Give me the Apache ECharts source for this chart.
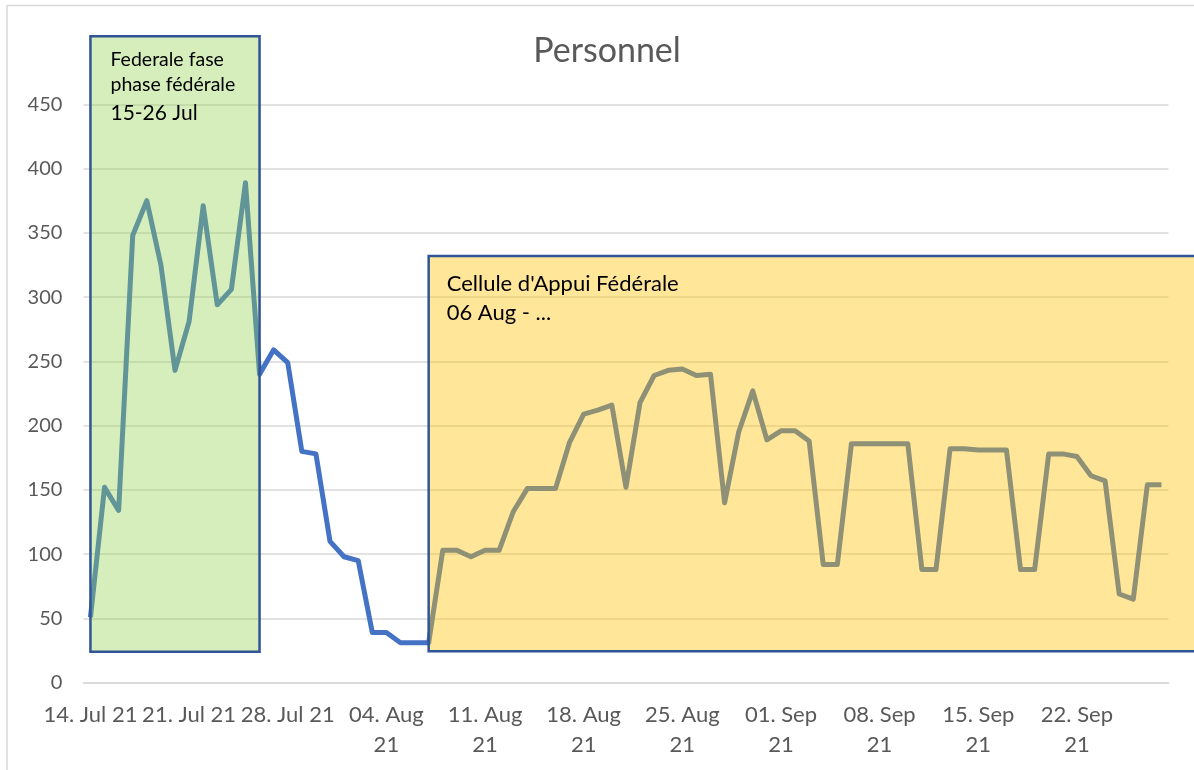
<!DOCTYPE html>
<html>
<head>
<meta charset="utf-8">
<script src="https://cdn.jsdelivr.net/npm/echarts@6/dist/echarts.min.js"></script>
<style>
html, body { margin: 0; padding: 0; background: #fff; }
#chart { width: 1194px; height: 770px; }
</style>
</head>
<body>
<div id="chart"></div>
<script>
// jours (14 Jul 21 - 28 Sep 21)
var days = [
    '14.07', '15.07', '16.07', '17.07', '18.07', '19.07', '20.07', '21.07', '22.07', '23.07', '24.07', '25.07', '26.07', '27.07', '28.07', '29.07', '30.07', '31.07',
    '01.08', '02.08', '03.08', '04.08', '05.08', '06.08', '07.08', '08.08', '09.08', '10.08', '11.08', '12.08', '13.08', '14.08', '15.08', '16.08', '17.08', '18.08',
    '19.08', '20.08', '21.08', '22.08', '23.08', '24.08', '25.08', '26.08', '27.08', '28.08', '29.08', '30.08', '31.08',
    '01.09', '02.09', '03.09', '04.09', '05.09', '06.09', '07.09', '08.09', '09.09', '10.09', '11.09', '12.09', '13.09', '14.09', '15.09', '16.09', '17.09',
    '18.09', '19.09', '20.09', '21.09', '22.09', '23.09', '24.09', '25.09', '26.09', '27.09', '28.09'
];

var tickLabels = [
    '14. Jul 21', '21. Jul 21', '28. Jul 21', '04. Aug\n21', '11. Aug\n21', '18. Aug\n21',
    '25. Aug\n21', '01. Sep\n21', '08. Sep\n21', '15. Sep\n21', '22. Sep\n21'
];

var personnel = [
    51, 152, 134, 348, 375, 325, 243, 281, 371, 294, 306, 389, 240, 259, 249, 180, 178, 110,
    98, 95, 39, 39, 31, 31, 31, 103, 103, 98, 103, 103, 133, 151, 151, 151, 187, 209,
    212, 216, 152, 218, 239, 243, 244, 239, 240, 140, 195, 227, 189,
    196, 196, 188, 92, 92, 186, 186, 186, 186, 186, 88, 88, 182, 182, 181, 181, 181,
    88, 88, 178, 178, 176, 161, 157, 69, 65, 154, 154
];

var yTicks = [0, 50, 100, 150, 200, 250, 300, 350, 400, 450];

// phases (dates de debut / fin)
var phaseFed = { from: '14.07', to: '26.07', text: ['Federale fase', 'phase fédérale', '15-26 Jul'] };
var phaseCaf = { from: '07.08', to: '28.09', text: ["Cellule d'Appui Fédérale", '06 Aug - ...'] };

var myChart = echarts.init(document.getElementById('chart'));

var option = {
    animation: false,
    textStyle: { fontFamily: 'Lato' },
    title: {
        text: 'Personnel',
        left: 602,
        top: 29,
        textAlign: 'center',
        textStyle: { fontFamily: 'Lato', fontSize: 34, fontWeight: 'normal', color: '#595959' }
    },
    grid: { left: 83.4, right: 25.5, top: 104.3, bottom: 87.3 },
    xAxis: {
        type: 'category',
        data: days,
        boundaryGap: true,
        axisLine: { lineStyle: { color: '#D9D9D9', width: 1.5 } },
        axisTick: { interval: 6, length: 7, lineStyle: { color: '#D9D9D9', width: 1.5 } },
        axisLabel: {
            interval: 6,
            margin: 17,
            fontSize: 22,
            lineHeight: 30,
            color: '#595959',
            fontFamily: 'Lato',
            formatter: function (value, index) {
                return tickLabels[index / 7];
            }
        },
        splitLine: { show: false }
    },
    yAxis: {
        type: 'value',
        min: yTicks[0],
        max: yTicks[yTicks.length - 1],
        interval: 50,
        axisLine: { show: false },
        axisTick: { show: false },
        axisLabel: { fontSize: 20, color: '#595959', margin: 21, fontFamily: 'Lato' },
        splitLine: { lineStyle: { color: '#D9D9D9', width: 1.5 } }
    },
    series: [
        {
            name: 'Personnel',
            type: 'line',
            data: personnel,
            symbol: 'none',
            z: 2,
            lineStyle: { color: '#4472C4', width: 5, join: 'round' }
        }
    ]
};

myChart.setOption(option);

// cadres des phases, places avec les echelles du graphique
function box(phase, yTop, yBottom) {
    var p1 = myChart.convertToPixel({ gridIndex: 0 }, [days.indexOf(phase.from), yTop]);
    var p2 = myChart.convertToPixel({ gridIndex: 0 }, [days.indexOf(phase.to), yBottom]);
    return { x: p1[0], y: p1[1], width: p2[0] - p1[0], height: p2[1] - p1[1] };
}

var fed = box(phaseFed, 503, 24);
var caf = box(phaseCaf, 332, 24.5);
caf.width += 60;

var graphics = [
    {
        type: 'rect', z: 0, silent: true,
        shape: { x: 7, y: 5.5, width: 1220, height: 800 },
        style: { fill: 'none', stroke: '#D9D9D9', lineWidth: 1.5 }
    },
    {
        type: 'rect', z: 100, silent: true,
        shape: fed,
        style: { fill: 'rgba(146,208,80,0.38)', stroke: '#2F5597', lineWidth: 2.5 }
    },
    {
        type: 'rect', z: 100, silent: true,
        shape: caf,
        style: { fill: 'rgba(255,192,0,0.4)', stroke: '#2F5597', lineWidth: 2.5 }
    },
    {
        type: 'text', z: 101, silent: true,
        style: { x: fed.x + 20, y: 60, text: phaseFed.text[0], font: '19.5px Lato', fill: '#000', verticalAlign: 'middle' }
    },
    {
        type: 'text', z: 101, silent: true,
        style: { x: fed.x + 20, y: 85, text: phaseFed.text[1], font: '19.5px Lato', fill: '#000', verticalAlign: 'middle' }
    },
    {
        type: 'text', z: 101, silent: true,
        style: { x: fed.x + 20, y: 113, text: phaseFed.text[2], font: '21px Lato', fill: '#000', verticalAlign: 'middle' }
    },
    {
        type: 'text', z: 101, silent: true,
        style: { x: caf.x + 18, y: 284, text: phaseCaf.text[0], font: '22px Lato', fill: '#000', verticalAlign: 'middle' }
    },
    {
        type: 'text', z: 101, silent: true,
        style: { x: caf.x + 18, y: 313, text: phaseCaf.text[1], font: '22px Lato', fill: '#000', verticalAlign: 'middle' }
    }
];

myChart.setOption({ graphic: graphics });
</script>
</body>
</html>
